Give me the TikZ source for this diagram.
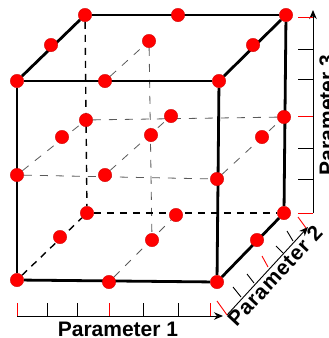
\documentclass[tikz,border=0pt]{standalone}
\usepackage{fontspec}
\setmainfont{Liberation Sans}
\usetikzlibrary{arrows.meta,backgrounds}
\definecolor{gridgray}{HTML}{5A5A5A}

\begin{document}
\begin{tikzpicture}[x=1pt,y=-1pt,>={Stealth[length=9pt,width=7.5pt]},
  pt/.style={circle,fill=red,draw=red!80!black,line width=0.3pt,minimum size=13.5pt,inner sep=0pt},
  e/.style={black,line width=2.8pt},
  h/.style={black,line width=1.4pt,dash pattern=on 7pt off 6pt},
  g/.style={gridgray,line width=0.8pt,dash pattern=on 8pt off 8pt},
  ax/.style={->,black,line width=0.9pt},
  t/.style={black,line width=0.9pt},
  r/.style={red,line width=0.9pt},
  lab/.style={font=\bfseries\fontsize{21}{21}\selectfont,inner sep=0pt}]
\useasboundingbox (0,0) rectangle (329,338);
% top face
\node[pt] (bl3) at (85,15) {};
\node[pt] (bm3) at (178,15) {};
\node[pt] (br3) at (286,15) {};
\node[pt] (ml3) at (51,45) {};
\node[pt] (mm3) at (149,41) {};
\node[pt] (mr3) at (253,45) {};
\node[pt] (fl3) at (17,81) {};
\node[pt] (fm3) at (105,81) {};
\node[pt] (fr3) at (219,81) {};
% middle
\node[pt] (bl2) at (86,120) {};
\node[pt] (bm2) at (171,116) {};
\node[pt] (br2) at (284,117) {};
\node[pt] (ml2) at (62,137) {};
\node[pt] (mm2) at (151,135) {};
\node[pt] (mr2) at (262,137) {};
\node[pt] (fl2) at (17,175) {};
\node[pt] (fm2) at (105,175) {};
\node[pt] (fr2) at (217,179) {};
% bottom face
\node[pt] (bl1) at (87,213) {};
\node[pt] (bm1) at (176,215) {};
\node[pt] (br1) at (284,213) {};
\node[pt] (ml1) at (60,237) {};
\node[pt] (mm1) at (152,240) {};
\node[pt] (mr1) at (257,240) {};
\node[pt] (fl1) at (17,280) {};
\node[pt] (fm1) at (109,282) {};
\node[pt] (fr1) at (217,282) {};
\begin{scope}[on background layer]
\draw[g] (fl2) -- (fr2);
\draw[g] (bl2) -- (br2);
\draw[g] (fl2) -- (bl2);
\draw[g] (fm2) -- (bm2);
\draw[g] (fr2) -- (br2);
\draw[g] (fm3) -- (mm3);
\draw[g] (fm1) -- (bm1);
\draw[g] (mm3) -- (mm1);
\draw[h] (bl3) -- (bl1);
\draw[h] (fl1) -- (bl1);
\draw[h] (bl1) -- (br1);
\draw[e] (fl3) -- (fr3);
\draw[e] (fr3) -- (fr1);
\draw[e] (fl1) -- (fr1);
\draw[e] (fl3) -- (fl1);
\draw[e] (fl3) -- (bl3);
\draw[e] (bl3) -- (br3);
\draw[e] (fr3) -- (br3);
\draw[e] (br3) -- (br1);
\draw[e] (fr1) -- (br1);
\end{scope}
% parameter 1
\coordinate (a1) at (17,316);
\coordinate (b1) at (223,316);
\draw[ax] (a1) -- (b1);
\foreach \x/\c in {17/r,47/t,77/t,109/r,143/t,178/t,210/r}
  \draw[\c] (\x,303) -- (\x,316);
\node[lab] (p1) at (118,329) {Parameter 1};
% parameter 2
\coordinate (a2) at (227,315);
\coordinate (b2) at (308,227);
\draw[ax] (a2) -- (b2);
\foreach \x/\y/\u/\v/\c in {217/301/227/315/r,233/287/241/297/t,247/274/254/283/t,262/256/268/267/r,276/246/283/253/t,287/231/293/241/t,298/217/306/228/r}
  \draw[\c] (\x,\y) -- (\u,\v);
\node[lab,rotate=47] (p2) at (275,276) {\addfontfeature{LetterSpace=4}Parameter 2};
% parameter 3
\coordinate (a3) at (313,213);
\coordinate (b3) at (313,10);
\draw[ax] (a3) -- (b3);
\foreach \y/\c in {17/r,49/t,79/t,116/r,148/t,179/t,213/r}
  \draw[\c] (298,\y) -- (313,\y);
\node[lab,rotate=90] (p3) at (327,115) {Parameter 3};
\end{tikzpicture}
\end{document}
